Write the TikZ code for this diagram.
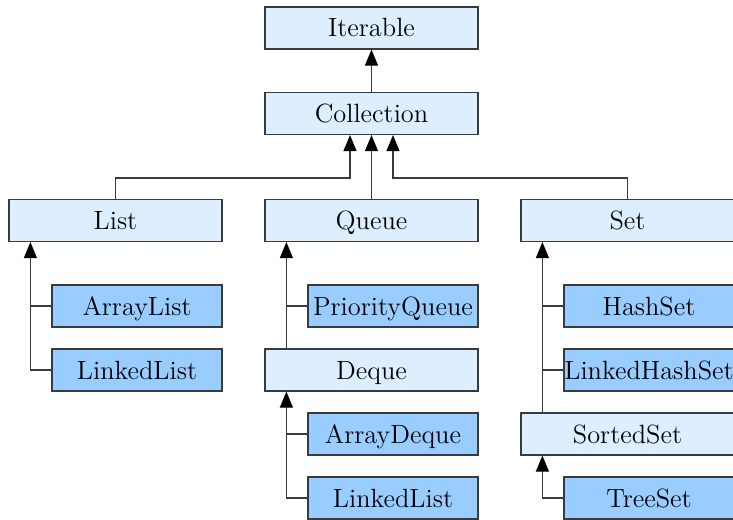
\documentclass[tikz,border=0pt]{standalone}
\usetikzlibrary{arrows.meta,calc}
\definecolor{lightbox}{HTML}{DDEEFF}
\definecolor{darkbox}{HTML}{99CCFF}
\definecolor{edge}{HTML}{3A3A3A}
\begin{document}
\begin{tikzpicture}[x=0.5pt,y=-0.5pt,
  base/.style={draw=edge,line width=0.6pt,inner sep=0pt,minimum height=21pt,
    font=\fontsize{13.2}{16}\selectfont,text height=11pt,text depth=2pt},
  iface/.style={base,fill=lightbox,minimum width=106.5pt},
  impl/.style={base,fill=darkbox,minimum width=85pt},
  conn/.style={draw=edge,line width=0.6pt},
  arr/.style={conn,-{Triangle[length=8pt,width=6.5pt,fill=black,color=black]}}]
\useasboundingbox (0,0) rectangle (733,519);
% interfaces
\node[iface] (iter) at (371.5,28) {Iterable};
\node[iface] (coll) at (371.5,113.5) {Collection};
\node[iface] (list) at (115.5,220.5) {List};
\node[iface] (queue) at (371.5,220.5) {Queue};
\node[iface] (set) at (627.5,220.5) {Set};
\node[iface] (deque) at (371.5,370) {Deque};
\node[iface] (sset) at (627.5,434) {SortedSet};
% implementations
\node[impl] (alist) at (137,306) {ArrayList};
\node[impl] (llist) at (137,370) {LinkedList};
\node[impl] (pq) at (393,306) {PriorityQueue};
\node[impl] (adq) at (393,434) {ArrayDeque};
\node[impl] (llist2) at (393,498) {LinkedList};
\node[impl] (hset) at (649,306) {HashSet};
\node[impl] (lhset) at (649,370) {LinkedHashSet};
\node[impl] (tset) at (649,498) {TreeSet};
% top level
\draw[arr] (coll.north) -- (iter.south);
\draw[arr] (queue.north) -- (coll.south);
\draw[arr] (list.north) -- ++(0,-21) -| ($(coll.south)+(-21.5,0)$);
\draw[arr] (set.north) -- ++(0,-21) -| ($(coll.south)+(21.5,0)$);
% list
\draw[arr] (llist.west) -| ($(list.south west)+(22,0)$);
\draw[conn] (alist.west) -- ++(-21,0);
% queue
\draw[arr] (deque.north west) ++(22,0) -- ($(queue.south west)+(22,0)$);
\draw[conn] (pq.west) -- ++(-21,0);
% deque
\draw[arr] (llist2.west) -| ($(deque.south west)+(22,0)$);
\draw[conn] (adq.west) -- ++(-21,0);
% set
\draw[arr] (sset.north west) ++(22,0) -- ($(set.south west)+(22,0)$);
\draw[conn] (hset.west) -- ++(-21,0);
\draw[conn] (lhset.west) -- ++(-21,0);
% sorted set
\draw[arr] (tset.west) -| ($(sset.south west)+(22,0)$);
\end{tikzpicture}
\end{document}
